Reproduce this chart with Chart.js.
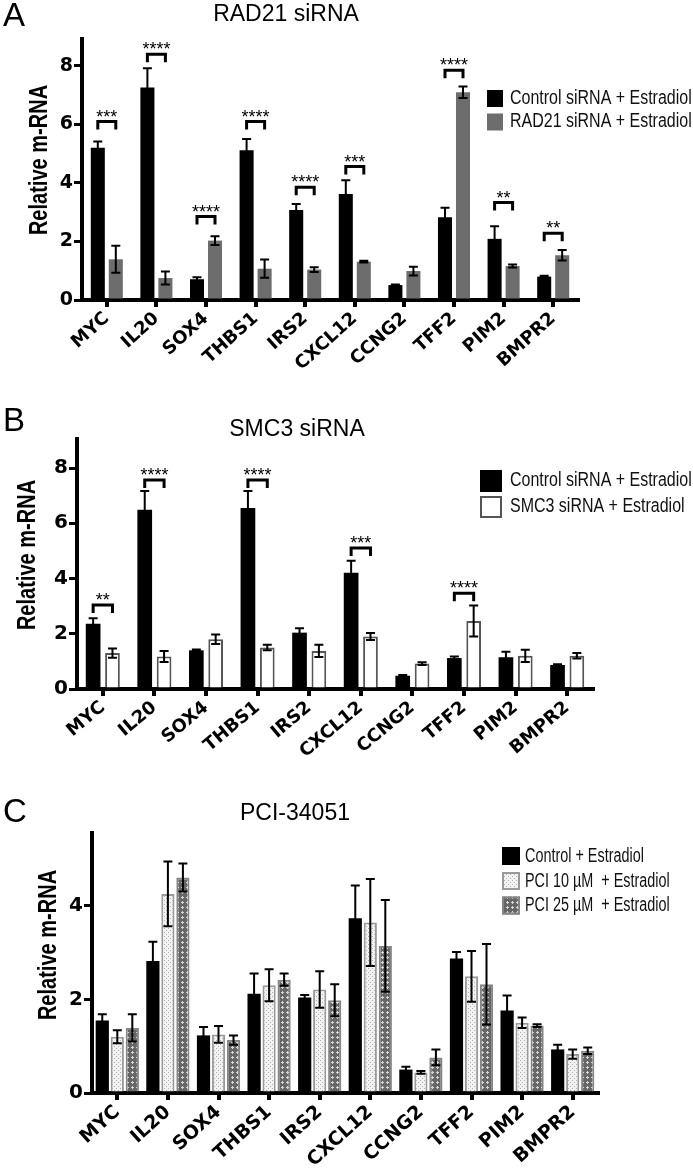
<!DOCTYPE html>
<html><head><meta charset="utf-8">
<script src="https://cdn.jsdelivr.net/npm/chart.js@4.4.0/dist/chart.umd.min.js"></script>
<style>
html,body{margin:0;padding:0;background:#fff;}
#wrap{position:relative;width:693px;height:1171px;overflow:hidden;background:#fff;}
.pane{position:absolute;left:0;width:693px;}
</style></head><body>
<div id="wrap">
<div class="pane" style="top:0;height:370px"><canvas id="cA"></canvas></div>
<div class="pane" style="top:380px;height:400px"><canvas id="cB"></canvas></div>
<div class="pane" style="top:780px;height:391px"><canvas id="cC"></canvas></div>
</div>
<script>
// ---------- DATA ----------
const categories = ['MYC','IL20','SOX4','THBS1','IRS2','CXCL12','CCNG2','TFF2','PIM2','BMPR2'];

// Panel A: RAD21 siRNA
const ctrlA    = [5.20, 7.26, 0.71, 5.12, 3.08, 3.62, 0.51, 2.83, 2.09, 0.80];
const ctrlAErr = [0.22, 0.66, 0.07, 0.38, 0.20, 0.47, 0.02, 0.32, 0.43, 0.03];
const radA     = [1.39, 0.75, 2.03, 1.07, 1.04, 1.31, 0.99, 7.10, 1.16, 1.53];
const radAErr  = [0.46, 0.22, 0.15, 0.31, 0.08, 0.03, 0.15, 0.20, 0.05, 0.18];
const sigA      = ['***','****','****','****','****','***','','****','**','**'];
const sigLevelA = [6.10, 8.40, 2.85, 6.10, 3.85, 4.56, null, 7.85, 3.33, 2.28];
const yTicksA = [0, 2, 4, 6, 8];

// Panel B: SMC3 siRNA
const ctrlB    = [2.36, 6.49, 1.40, 6.55, 2.04, 4.21, 0.48, 1.12, 1.15, 0.87];
const ctrlBErr = [0.20, 0.68, 0.03, 0.62, 0.16, 0.43, 0.03, 0.06, 0.20, 0.03];
const smcB     = [1.30, 1.18, 1.80, 1.50, 1.38, 1.90, 0.92, 2.46, 1.20, 1.20];
const smcBErr  = [0.17, 0.20, 0.17, 0.10, 0.22, 0.13, 0.05, 0.56, 0.22, 0.10];
const sigB      = ['**','****','','****','','***','','****','',''];
const sigLevelB = [3.04, 7.57, null, 7.57, null, 5.10, null, 3.47, null, null];
const yTicksB = [0, 2, 4, 6, 8];

// Panel C: PCI-34051
const ctrlC    = [1.55, 2.82, 1.23, 2.12, 2.04, 3.73, 0.50, 2.87, 1.76, 0.93];
const ctrlCErr = [0.13, 0.41, 0.18, 0.43, 0.05, 0.70, 0.06, 0.14, 0.32, 0.10];
const p10C     = [1.20, 4.25, 1.25, 2.30, 2.21, 3.64, 0.44, 2.49, 1.50, 0.83];
const p10CErr  = [0.14, 0.69, 0.18, 0.34, 0.39, 0.93, 0.03, 0.54, 0.11, 0.10];
const p25C     = [1.39, 4.60, 1.13, 2.42, 1.98, 3.14, 0.76, 2.32, 1.44, 0.90];
const p25CErr  = [0.29, 0.30, 0.10, 0.13, 0.34, 0.98, 0.17, 0.86, 0.03, 0.07];
const yTicksC = [0, 2, 4];

const yMaxA = 8.92, yMaxB = 9.05, yMaxC = 5.55;

// ---------- PATTERNS ----------
function makePattern(bg, fg, kind) {
  const n = kind === 1 ? 4 : 5;
  const c = document.createElement('canvas');
  c.width = n; c.height = n;
  const g = c.getContext('2d');
  g.fillStyle = bg; g.fillRect(0, 0, n, n);
  g.fillStyle = fg;
  if (kind === 1) { g.fillRect(0, 0, 1, 1); g.fillRect(2, 2, 1, 1); }
  else { g.fillRect(2, 1, 1, 1); g.fillRect(1, 2, 1, 1); g.fillRect(2, 2, 1, 1); g.fillRect(3, 2, 1, 1); g.fillRect(2, 3, 1, 1); }
  return g.createPattern(c, 'repeat');
}
const pat10 = makePattern('#f2f2f2', '#b0b0b0', 1);
const pat25 = makePattern('#666666', '#d6d6d6', 2);

// ---------- HELPERS ----------
function drawText(ctx, txt, x, y, font, sx, align, rot, color) {
  ctx.save();
  ctx.translate(x, y);
  if (rot) ctx.rotate(rot);
  ctx.scale(sx, 1);
  ctx.font = font;
  ctx.textAlign = align;
  ctx.textBaseline = 'middle';
  ctx.fillStyle = color || '#000';
  ctx.fillText(txt, 0, 0);
  ctx.restore();
}

function makeChart(id, P) {
  const plugin = {
    id: 'panelDeco' + id,
    afterDatasetsDraw(chart) {
      const ctx = chart.ctx, ys = chart.scales.y;
      chart.data.datasets.forEach((ds, i) => {
        const meta = chart.getDatasetMeta(i);
        meta.data.forEach((bar, j) => {
          const v = ds.data[j], e = ds.errors[j];
          if (!e) return;
          const yt = ys.getPixelForValue(v + e), yb = ys.getPixelForValue(Math.max(0, v - e));
          ctx.save();
          ctx.strokeStyle = '#000'; ctx.lineWidth = 2;
          ctx.beginPath();
          ctx.moveTo(bar.x, yb); ctx.lineTo(bar.x, yt);
          ctx.moveTo(bar.x - 4.5, yt); ctx.lineTo(bar.x + 4.5, yt);
          ctx.moveTo(bar.x - 4.5, yb); ctx.lineTo(bar.x + 4.5, yb);
          ctx.stroke();
          ctx.restore();
        });
      });
      if (P.sig) {
        const m0 = chart.getDatasetMeta(0), m1 = chart.getDatasetMeta(1);
        P.sig.forEach((lab, j) => {
          if (!lab) return;
          const x0 = m0.data[j].x, x1 = m1.data[j].x;
          const y = ys.getPixelForValue(P.sigLevel[j]);
          ctx.save();
          ctx.strokeStyle = '#000'; ctx.lineWidth = 3; ctx.lineJoin = 'miter';
          ctx.beginPath();
          ctx.moveTo(x0, y + 8); ctx.lineTo(x0, y); ctx.lineTo(x1, y); ctx.lineTo(x1, y + 8);
          ctx.stroke();
          ctx.font = '18px "Liberation Sans", Arial, sans-serif';
          ctx.textAlign = 'center'; ctx.textBaseline = 'alphabetic'; ctx.fillStyle = '#000';
          ctx.fillText(lab, (x0 + x1) / 2, y + 1);
          ctx.restore();
        });
      }
    },
    afterDraw(chart) {
      const ctx = chart.ctx, off = P.top;
      drawText(ctx, P.letter, P.letterPos[0], P.letterPos[1] - off, '33px "Liberation Sans", Arial, sans-serif', 1, 'center');
      drawText(ctx, P.title, P.titlePos[0], P.titlePos[1] - off, '23px "Liberation Sans", Arial, sans-serif', 1, 'center');
      drawText(ctx, 'Relative m-RNA', P.ylabPos[0], P.ylabPos[1] - off, 'bold 26px "Liberation Sans", Arial, sans-serif', 0.77, 'center', -Math.PI / 2);
      const L = P.legend;
      chart.data.datasets.forEach((ds, i) => {
        const cy = L.rows[i] - off;
        ctx.save();
        ctx.fillStyle = ds.backgroundColor;
        ctx.fillRect(L.x, cy - L.h / 2, L.w, L.h);
        if (ds.borderWidth) {
          ctx.strokeStyle = ds.borderColor; ctx.lineWidth = ds.borderWidth;
          ctx.strokeRect(L.x + ds.borderWidth / 2, cy - L.h / 2 + ds.borderWidth / 2, L.w - ds.borderWidth, L.h - ds.borderWidth);
        }
        ctx.restore();
        drawText(ctx, ds.label, L.tx, cy, L.font, L.sx, 'left', 0, '#111');
      });
    }
  };

  const tickFont = { family: '"DejaVu Sans", sans-serif', weight: 'bold', size: P.yTickSize };
  return new Chart(document.getElementById(id), {
    type: 'bar',
    data: { labels: categories, datasets: P.datasets },
    options: {
      responsive: true, maintainAspectRatio: false, animation: false,
      layout: { padding: { left: 0, right: 693 - P.plot.r, top: P.plot.t - P.top, bottom: 0 } },
      datasets: { bar: { categoryPercentage: P.cp, barPercentage: P.bp } },
      plugins: { legend: { display: false }, title: { display: false }, tooltip: { enabled: false } },
      scales: {
        x: {
          afterFit: s => { s.height = P.top + P.height - P.plot.b; },
          grid: { display: true, drawOnChartArea: false, drawTicks: true, tickLength: 7, lineWidth: 4, color: '#000', offset: false },
          border: { display: true, width: 4, color: '#000' },
          ticks: { autoSkip: false, maxRotation: P.rot, minRotation: P.rot, color: '#000', padding: 1,
                   font: { family: '"DejaVu Sans", sans-serif', weight: 'bold', size: P.xTickSize } }
        },
        y: {
          min: 0, max: P.yMax,
          afterFit: s => { s.width = P.plot.l; },
          afterBuildTicks: s => { s.ticks = P.yTicks.map(v => ({ value: v })); },
          grid: { display: true, drawOnChartArea: false, drawTicks: true, tickLength: 8, lineWidth: 3, color: '#000' },
          border: { display: true, width: 4, color: '#000' },
          ticks: { color: '#000', padding: 1, font: tickFont }
        }
      }
    },
    plugins: [plugin]
  });
}

makeChart('cA', {
  top: 0, height: 370, plot: { l: 82, r: 578, t: 39, b: 300 },
  yMax: yMaxA, yTicks: yTicksA, cp: 0.726, bp: 0.78, rot: 42, xTickSize: 18, yTickSize: 19,
  letter: 'A', letterPos: [14, 17], title: 'RAD21 siRNA', titlePos: [286, 15], ylabPos: [40, 160],
  sig: sigA, sigLevel: sigLevelA,
  legend: { x: 487, w: 16, h: 17, rows: [98.5, 122], tx: 510, font: '19.5px "Liberation Sans", Arial, sans-serif', sx: 0.82 },
  datasets: [
    { label: 'Control siRNA + Estradiol', data: ctrlA, errors: ctrlAErr, backgroundColor: '#000000' },
    { label: 'RAD21 siRNA + Estradiol', data: radA, errors: radAErr, backgroundColor: '#6d6d6d' }
  ]
});

makeChart('cB', {
  top: 380, height: 400, plot: { l: 77, r: 593, t: 439, b: 689 },
  yMax: yMaxB, yTicks: yTicksB, cp: 0.75, bp: 0.76, rot: 40, xTickSize: 18, yTickSize: 20,
  letter: 'B', letterPos: [14, 422], title: 'SMC3 siRNA', titlePos: [297, 430], ylabPos: [28, 555],
  sig: sigB, sigLevel: sigLevelB,
  legend: { x: 480, w: 22, h: 22, rows: [481, 507], tx: 510, font: '19.5px "Liberation Sans", Arial, sans-serif', sx: 0.82 },
  datasets: [
    { label: 'Control siRNA + Estradiol', data: ctrlB, errors: ctrlBErr, backgroundColor: '#000000' },
    { label: 'SMC3 siRNA + Estradiol', data: smcB, errors: smcBErr, backgroundColor: '#ffffff', borderColor: '#555555', borderWidth: 2 }
  ]
});

makeChart('cC', {
  top: 780, height: 391, plot: { l: 92, r: 598, t: 833, b: 1093 },
  yMax: yMaxC, yTicks: yTicksC, cp: 0.89, bp: 0.88, rot: 42, xTickSize: 19, yTickSize: 20,
  letter: 'C', letterPos: [15, 813], title: 'PCI-34051', titlePos: [295, 814], ylabPos: [49, 945],
  sig: null,
  legend: { x: 502, w: 18, h: 18, rows: [856, 881, 905.5], tx: 525, font: '20px "Liberation Sans", Arial, sans-serif', sx: 0.72 },
  datasets: [
    { label: 'Control + Estradiol', data: ctrlC, errors: ctrlCErr, backgroundColor: '#000000' },
    { label: 'PCI 10 µM  + Estradiol', data: p10C, errors: p10CErr, backgroundColor: pat10, borderColor: '#9a9a9a', borderWidth: 2 },
    { label: 'PCI 25 µM  + Estradiol', data: p25C, errors: p25CErr, backgroundColor: pat25, borderColor: '#858585', borderWidth: 2 }
  ]
});
</script>
</body></html>
